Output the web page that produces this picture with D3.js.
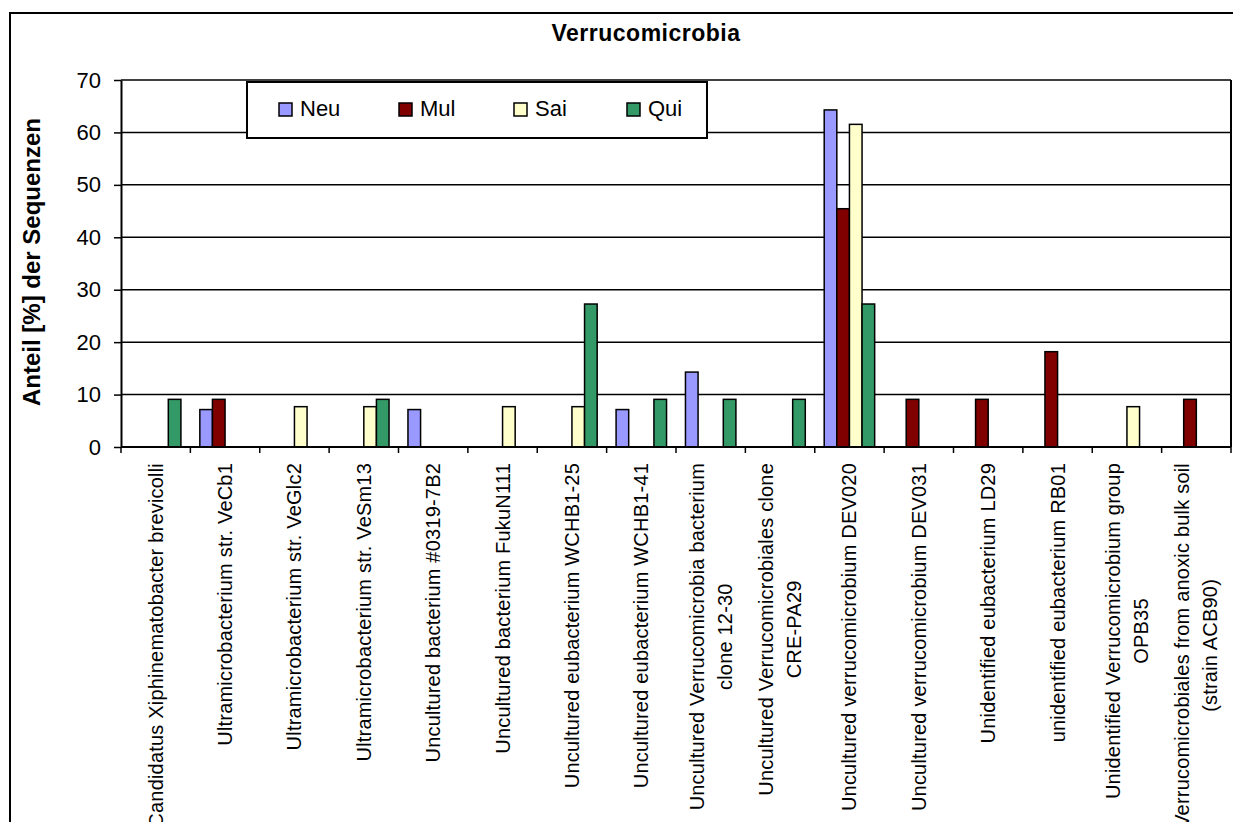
<!DOCTYPE html>
<html>
<head>
<meta charset="utf-8">
<script src="https://cdn.jsdelivr.net/npm/d3@7"></script>
<style>
  body { margin: 0; background: #fff; }
  svg { display: block; font-family: "Liberation Sans", Arial, sans-serif; }
</style>
</head>
<body>
<div id="chart"></div>
<script>
// Verrucomicrobia - share of sequences per clone library

const categories = [
  ["Candidatus Xiphinematobacter brevicolli"],
  ["Ultramicrobacterium str. VeCb1"],
  ["Ultramicrobacterium str. VeGlc2"],
  ["Ultramicrobacterium str. VeSm13"],
  ["Uncultured bacterium #0319-7B2"],
  ["Uncultured bacterium FukuN111"],
  ["Uncultured eubacterium WCHB1-25"],
  ["Uncultured eubacterium WCHB1-41"],
  ["Uncultured Verrucomicrobia bacterium", "clone 12-30"],
  ["Uncultured Verrucomicrobiales clone", "CRE-PA29"],
  ["Uncultured verrucomicrobium DEV020"],
  ["Uncultured verrucomicrobium DEV031"],
  ["Unidentified eubacterium LD29"],
  ["unidentified eubacterium RB01"],
  ["Unidentified Verrucomicrobium group", "OPB35"],
  ["Verrucomicrobiales from anoxic bulk soil", "(strain ACB90)"]
];

const seriesNames = ["Neu", "Mul", "Sai", "Qui"];
const seriesColors = ["#9999FF", "#800000", "#FFFFCC", "#339966"];

// values in %, 0 = no bar
const neu = [0, 7.14, 0, 0, 7.14, 0, 0, 7.14, 14.29, 0, 64.29, 0, 0, 0, 0, 0];
const mul = [0, 9.09, 0, 0, 0, 0, 0, 0, 0, 0, 45.45, 9.09, 9.09, 18.18, 0, 9.09];
const sai = [0, 0, 7.69, 7.69, 0, 7.69, 7.69, 0, 0, 0, 61.54, 0, 0, 0, 7.69, 0];
const qui = [9.09, 0, 0, 9.09, 0, 0, 27.27, 9.09, 9.09, 9.09, 27.27, 0, 0, 0, 0, 0];

const yTicks = [0, 10, 20, 30, 40, 50, 60, 70];

const W = 1233, H = 822;
const plot = { left: 121, right: 1231, top: 80, bottom: 447 };

const svg = d3.select("#chart").append("svg")
  .attr("width", W)
  .attr("height", H);

// outer chart frame
svg.append("rect")
  .attr("x", 10).attr("y", 13)
  .attr("width", 1240).attr("height", 840)
  .attr("fill", "#fff")
  .attr("stroke", "#000")
  .attr("stroke-width", 2);

const catIdx = d3.range(categories.length);
const x0 = d3.scaleBand().domain(catIdx).range([plot.left, plot.right]).padding(0);
const x1 = d3.scaleBand().domain(seriesNames).range([0, x0.bandwidth()])
  .paddingInner(0).paddingOuter(0.75);
const y = d3.scaleLinear().domain([0, 70]).range([plot.bottom, plot.top]);

// gridlines
svg.append("g")
  .selectAll("line")
  .data(yTicks.slice(1))
  .join("line")
  .attr("x1", plot.left).attr("x2", plot.right)
  .attr("y1", d => y(d)).attr("y2", d => y(d))
  .attr("stroke", "#000")
  .attr("stroke-width", 1.5);

// right border of plot area
svg.append("line")
  .attr("x1", plot.right).attr("x2", plot.right)
  .attr("y1", plot.top).attr("y2", plot.bottom)
  .attr("stroke", "#000").attr("stroke-width", 2);

// bars
const table = categories.map((c, i) => ({ i, vals: [neu[i], mul[i], sai[i], qui[i]] }));

const groups = svg.append("g")
  .selectAll("g")
  .data(table)
  .join("g")
  .attr("transform", d => `translate(${x0(d.i)},0)`);

groups.selectAll("rect")
  .data(d => d.vals.map((v, k) => ({ v, k })).filter(e => e.v > 0))
  .join("rect")
  .attr("x", e => x1(seriesNames[e.k]))
  .attr("y", e => y(e.v))
  .attr("width", x1.bandwidth())
  .attr("height", e => y(0) - y(e.v))
  .attr("fill", e => seriesColors[e.k])
  .attr("stroke", "#000")
  .attr("stroke-width", 1.5);

// y axis
const yAxis = svg.append("g")
  .attr("transform", `translate(${plot.left},0)`)
  .call(d3.axisLeft(y).tickValues(yTicks).tickSize(7).tickPadding(13).tickSizeOuter(0));
yAxis.select(".domain").attr("stroke-width", 2);
yAxis.selectAll(".tick line").attr("stroke-width", 1.5);
yAxis.selectAll("text")
  .attr("font-size", 22)
  .attr("font-family", "Liberation Sans, Arial, sans-serif")
  .attr("fill", "#000");

// x axis (ticks at category boundaries)
svg.append("line")
  .attr("x1", plot.left).attr("x2", plot.right)
  .attr("y1", plot.bottom).attr("y2", plot.bottom)
  .attr("stroke", "#000").attr("stroke-width", 2);
svg.append("g")
  .selectAll("line")
  .data(d3.range(categories.length + 1))
  .join("line")
  .attr("x1", i => plot.left + i * x0.step())
  .attr("x2", i => plot.left + i * x0.step())
  .attr("y1", plot.bottom).attr("y2", plot.bottom + 6)
  .attr("stroke", "#000").attr("stroke-width", 1.5);

// category labels, rotated, top aligned
const lineH = 28, labelTop = 463, capH = 14;
const labels = svg.append("g")
  .selectAll("text")
  .data(table)
  .join("text")
  .attr("font-size", 20)
  .attr("letter-spacing", 0.2)
  .attr("fill", "#000")
  .attr("text-anchor", "middle");

labels.each(function(d) {
  const t = d3.select(this);
  const lines = categories[d.i];
  const cx = x0(d.i) + x0.bandwidth() / 2;
  lines.forEach((ln, j) => {
    t.append("tspan").text(ln).attr("data-j", j);
  });
  let maxLen = 0;
  t.selectAll("tspan").each(function() {
    maxLen = Math.max(maxLen, this.getComputedTextLength());
  });
  const mid = labelTop + maxLen / 2;
  t.attr("transform", `translate(${cx},${mid}) rotate(-90)`);
  t.selectAll("tspan")
    .attr("x", 0)
    .attr("y", (dd, j) => (j - (lines.length - 1) / 2) * lineH + capH / 2);
});

// y axis title
svg.append("text")
  .attr("transform", `translate(40,262) rotate(-90)`)
  .attr("text-anchor", "middle")
  .attr("font-size", 24)
  .attr("font-weight", "bold")
  .text("Anteil [%] der Sequenzen");

// chart title
svg.append("text")
  .attr("x", 646).attr("y", 41)
  .attr("text-anchor", "middle")
  .attr("font-size", 23)
  .attr("font-weight", "bold")
  .attr("letter-spacing", 0.5)
  .text("Verrucomicrobia");

// legend
const legend = svg.append("g");
legend.append("rect")
  .attr("x", 247).attr("y", 82)
  .attr("width", 460).attr("height", 56)
  .attr("fill", "#fff")
  .attr("stroke", "#000")
  .attr("stroke-width", 2);
const legX = [279, 399, 514, 627];
const item = legend.selectAll(".item")
  .data(seriesNames)
  .join("g")
  .attr("class", "item")
  .attr("transform", (d, k) => `translate(${legX[k]},103)`);
item.append("rect")
  .attr("width", 13).attr("height", 13)
  .attr("fill", (d, k) => seriesColors[k])
  .attr("stroke", "#000").attr("stroke-width", 1.5);
item.append("text")
  .attr("x", 21).attr("y", 13)
  .attr("font-size", 22)
  .text(d => d);
</script>
</body>
</html>
